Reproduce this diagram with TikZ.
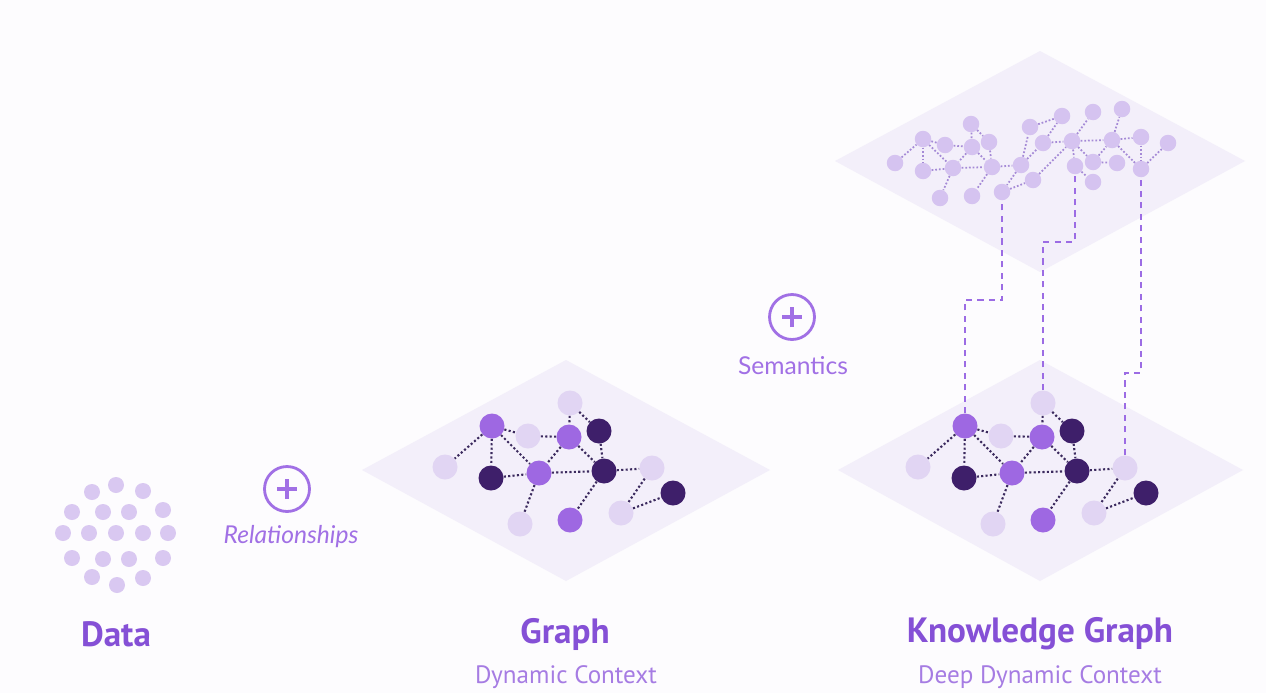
\documentclass[tikz,border=0pt]{standalone}
\usepackage{fontspec}
\usepackage{xcolor}
\setmainfont{PT Sans}
\newfontfamily\tagfont{Lato}
\usetikzlibrary{positioning}

\definecolor{pagebg}{HTML}{FDFCFE}
\definecolor{plate}{HTML}{F3EFFA}
\definecolor{dotcol}{HTML}{D9C8F1}
\definecolor{lightcol}{HTML}{E1D5F3}
\definecolor{midcol}{HTML}{9E68E2}
\definecolor{darkcol}{HTML}{3E1F6A}
\definecolor{topcol}{HTML}{D5C3F0}
\definecolor{linkcol}{HTML}{3B2A5E}
\definecolor{toplinkcol}{HTML}{A58AD6}
\definecolor{bridgecol}{HTML}{9C6CE4}
\definecolor{accent}{HTML}{A170E5}
\definecolor{titlecol}{HTML}{8550D6}
\definecolor{subcol}{HTML}{A67CE3}

\begin{document}
\begin{tikzpicture}[
    x=0.02cm, y=-0.02cm,
    datadot/.style={circle, inner sep=0pt, minimum size=0.32cm, fill=dotcol},
    lnode/.style={circle, inner sep=0pt, minimum size=0.5cm, fill=lightcol},
    mnode/.style={circle, inner sep=0pt, minimum size=0.5cm, fill=midcol},
    dnode/.style={circle, inner sep=0pt, minimum size=0.5cm, fill=darkcol},
    tnode/.style={circle, inner sep=0pt, minimum size=0.33cm, fill=topcol},
    link/.style={draw=linkcol, line width=1.2pt, dash pattern=on 1.2pt off 1.3pt},
    toplink/.style={draw=toplinkcol, line width=1pt, dash pattern=on 1pt off 1.1pt},
    bridge/.style={draw=bridgecol, line width=1.3pt, dash pattern=on 3.5pt off 3pt},
    plusring/.style={circle, draw=accent, line width=1.6pt, minimum size=0.9cm, inner sep=0pt},
    tag/.style={text=accent, font=\tagfont\fontsize{14}{16}\selectfont},
    title/.style={text=titlecol, font=\fontsize{20}{23}\selectfont\bfseries},
    subtitle/.style={text=subcol, font=\fontsize{14.3}{17}\selectfont}
]
    % page and plates
    \fill[pagebg] (0,0) rectangle (1266,693);
    \useasboundingbox (0,0) rectangle (1266,693);
    \fill[plate] (362,470) -- (566,360) -- (770,470) -- (566,581) -- cycle;
    \fill[plate] (838,470) -- (1040,360) -- (1243,470) -- (1040,581) -- cycle;
    \fill[plate] (835,161) -- (1040,51) -- (1245,161) -- (1040,272) -- cycle;

    % raw data points
    \foreach \n/\x/\y in {1/92/492, 2/116/485, 3/143/491,
                          4/72/512, 5/103/512, 6/129/512, 7/163/510,
                          8/63/533, 9/89/533, 10/116/533, 11/143/533, 12/168/533,
                          13/72/558, 14/103/559, 15/129/559, 16/163/558,
                          17/92/577, 18/117/585, 19/143/578}
        \node[datadot] (d\n) at (\x,\y) {};

    % graph and lower knowledge graph (same network)
    \foreach \dx/\p in {0/g, 473/k} {
        \node[mnode] (\p A) at (\dx+492,426) {};
        \node[lnode] (\p B) at (\dx+528,436) {};
        \node[lnode] (\p C) at (\dx+570,403) {};
        \node[mnode] (\p D) at (\dx+569,437) {};
        \node[dnode] (\p E) at (\dx+599,431) {};
        \node[lnode] (\p F) at (\dx+445,467) {};
        \node[dnode] (\p G) at (\dx+491,478) {};
        \node[mnode] (\p H) at (\dx+539,473) {};
        \node[dnode] (\p I) at (\dx+604,471) {};
        \node[lnode] (\p J) at (\dx+652,468) {};
        \node[dnode] (\p K) at (\dx+673,493) {};
        \node[lnode] (\p L) at (\dx+520,524) {};
        \node[mnode] (\p M) at (\dx+570,520) {};
        \node[lnode] (\p N) at (\dx+621,513) {};
        \foreach \a/\b in {A/F, A/B, A/G, A/H, G/H, B/D, C/D, C/E, D/H,
                           D/I, E/I, H/I, I/J, I/M, H/L, J/N, N/K}
            \draw[link] (\p\a) -- (\p\b);
    }

    % upper knowledge graph (semantic layer)
    \foreach \n/\x/\y in {1/895/163, 2/923/139, 3/945/145, 4/971/124, 5/972/147,
                          6/989/142, 7/923/171, 8/953/168, 9/992/167, 10/940/198,
                          11/972/196, 12/1002/192, 13/1021/165, 14/1030/127,
                          15/1062/116, 16/1043/143, 17/1033/180, 18/1072/141,
                          19/1093/112, 20/1075/166, 21/1093/162, 22/1093/182,
                          23/1112/140, 24/1122/109, 25/1141/137, 26/1117/163,
                          27/1141/169, 28/1168/143}
        \node[tnode] (t\n) at (\x,\y) {};
    \foreach \a/\b in {1/2, 2/3, 2/7, 2/8, 7/8, 3/5, 4/5, 4/6, 5/8, 6/9, 5/9,
                       8/9, 8/10, 9/11, 9/13, 13/12, 13/14, 14/15, 13/16, 12/17,
                       16/15, 17/18, 16/18, 18/19, 18/20, 18/21, 20/22, 18/23,
                       21/23, 21/26, 23/24, 23/25, 23/27, 25/27, 27/28}
        \draw[toplink] (t\a) -- (t\b);

    % links between the layers
    \coordinate (b1) at (965,300);
    \coordinate (b2) at (1002,300);
    \coordinate (b3) at (1043,242);
    \coordinate (b4) at (1075,242);
    \coordinate (b5) at (1125,373);
    \coordinate (b6) at (1141,373);
    \draw[bridge] (kA) -- (b1) -- (b2) -- (t12);
    \draw[bridge] (kC) -- (b3) -- (b4) -- (t20);
    \draw[bridge] (kJ) -- (b5) -- (b6) -- (t27);

    % steps
    \node[plusring] (plus1) at (287,489) {};
    \node[plusring] (plus2) at (792,317) {};
    \foreach \c in {plus1, plus2} {
        \draw[accent, line width=1.9pt] ([xshift=-0.2cm]\c.center) -- ([xshift=0.2cm]\c.center);
        \draw[accent, line width=1.9pt] ([yshift=-0.2cm]\c.center) -- ([yshift=0.2cm]\c.center);
    }
    \node[tag, font=\tagfont\itshape\fontsize{14}{16}\selectfont] (rel) at (291,537) {Relationships};
    \node[tag] (sem) at (793,366) {Semantics};

    % captions
    \node[title] (data) at (116,634) {Data};
    \node[title] (graph) at (565,634) {Graph};
    \node[title] (kg) at (1040,634) {Knowledge Graph};
    \node[subtitle] (graphsub) at (566,677) {Dynamic Context};
    \node[subtitle] (kgsub) at (1040,677) {Deep Dynamic Context};
\end{tikzpicture}
\end{document}
